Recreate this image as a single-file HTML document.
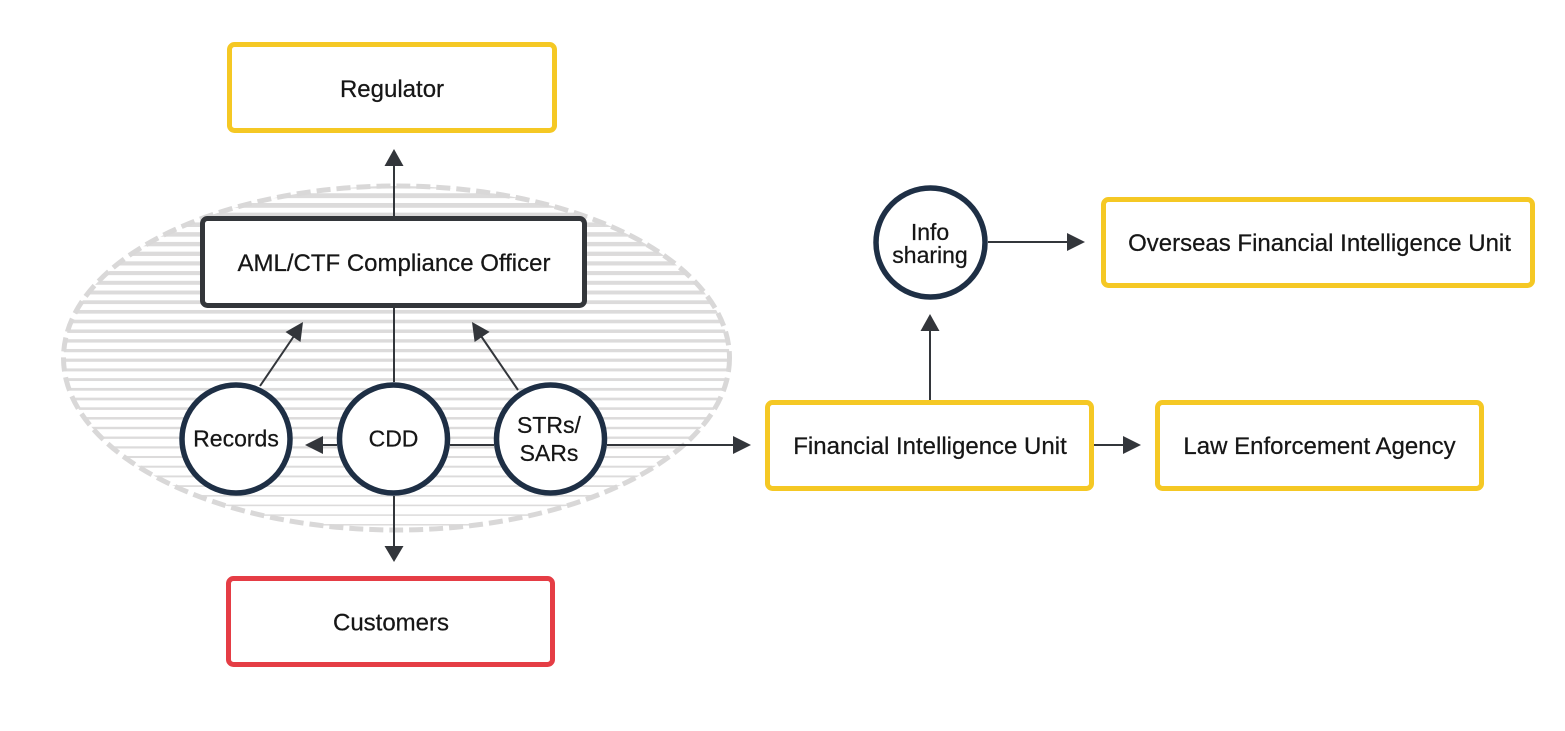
<!DOCTYPE html>
<html>
<head>
<meta charset="utf-8">
<style>
  html, body { margin: 0; padding: 0; background: #ffffff; }
  body { width: 1565px; height: 731px; overflow: hidden; }
  svg { display: block; }
  text { font-family: "Liberation Sans", Arial, sans-serif; font-size: 23px; fill: #161616; stroke: #161616; stroke-width: 0.25px; }
  text.b { font-size: 24px; }
</style>
</head>
<body>
<svg width="1565" height="731" viewBox="0 0 1565 731" xmlns="http://www.w3.org/2000/svg">
  <defs>
    <clipPath id="ell">
      <ellipse cx="396.5" cy="358" rx="333" ry="172"/>
    </clipPath>
  </defs>

  <!-- striped ellipse -->
  <g clip-path="url(#ell)" fill="#dcdbdb">
    <rect x="55" y="183.5" width="680" height="5.0"/>
    <rect x="55" y="193.25" width="680" height="4.9"/>
    <rect x="55" y="203.0" width="680" height="4.8"/>
    <rect x="55" y="212.65" width="680" height="4.7"/>
    <rect x="55" y="222.4" width="680" height="4.6"/>
    <rect x="55" y="232.15" width="680" height="4.5"/>
    <rect x="55" y="241.9" width="680" height="4.4"/>
    <rect x="55" y="251.65" width="680" height="4.3"/>
    <rect x="55" y="261.3" width="680" height="4.2"/>
    <rect x="55" y="271.05" width="680" height="4.1"/>
    <rect x="55" y="280.8" width="680" height="4.0"/>
    <rect x="55" y="290.55" width="680" height="3.9"/>
    <rect x="55" y="300.3" width="680" height="3.8"/>
    <rect x="55" y="309.95" width="680" height="3.7"/>
    <rect x="55" y="319.7" width="680" height="3.6"/>
    <rect x="55" y="329.45" width="680" height="3.5"/>
    <rect x="55" y="339.2" width="680" height="3.4"/>
    <rect x="55" y="348.95" width="680" height="3.3"/>
    <rect x="55" y="358.6" width="680" height="3.2"/>
    <rect x="55" y="368.4" width="680" height="3.0"/>
    <rect x="55" y="378.15" width="680" height="2.9"/>
    <rect x="55" y="387.9" width="680" height="2.8"/>
    <rect x="55" y="397.65" width="680" height="2.7"/>
    <rect x="55" y="407.3" width="680" height="2.6"/>
    <rect x="55" y="417.05" width="680" height="2.5"/>
    <rect x="55" y="426.8" width="680" height="2.4"/>
    <rect x="55" y="436.55" width="680" height="2.3"/>
    <rect x="55" y="446.3" width="680" height="2.2"/>
    <rect x="55" y="455.95" width="680" height="2.1"/>
    <rect x="55" y="465.7" width="680" height="2.0"/>
    <rect x="55" y="475.45" width="680" height="1.9"/>
    <rect x="55" y="485.2" width="680" height="1.8"/>
    <rect x="55" y="494.95" width="680" height="1.7"/>
    <rect x="55" y="504.6" width="680" height="1.6"/>
    <rect x="55" y="514.35" width="680" height="1.5"/>
    <rect x="55" y="524.05" width="680" height="1.5"/>
  </g>
  <ellipse cx="396.5" cy="358" rx="333" ry="172" fill="none" stroke="#d9d8d8" stroke-width="5" stroke-dasharray="14 6"/>

  <!-- connectors -->
  <g stroke="#33363b" stroke-width="2" fill="none">
    <line x1="394" y1="216" x2="394" y2="164"/>
    <line x1="394" y1="308" x2="394" y2="382"/>
    <line x1="394" y1="496" x2="394" y2="548"/>
    <line x1="337" y1="445" x2="321" y2="445"/>
    <line x1="450" y1="445" x2="494" y2="445"/>
    <line x1="607" y1="445" x2="735" y2="445"/>
    <line x1="260" y1="386" x2="294" y2="336"/>
    <line x1="518" y1="390" x2="481" y2="336"/>
    <line x1="930" y1="400" x2="930" y2="329"/>
    <line x1="988" y1="242" x2="1069" y2="242"/>
    <line x1="1094" y1="445" x2="1125" y2="445"/>
  </g>
  <g fill="#33363b">
    <polygon points="394,149 384.5,166 403.5,166"/>
    <polygon points="394,562 384.5,546 403.5,546"/>
    <polygon points="305,445 323,436 323,454"/>
    <polygon points="751,445 733,436 733,454"/>
    <polygon points="303,322 300.5,342 285.5,332"/>
    <polygon points="472,322 489.6,331.9 474.6,342"/>
    <polygon points="930,314 920.5,331 939.5,331"/>
    <polygon points="1085,242 1067,233 1067,251"/>
    <polygon points="1141,445 1123,436 1123,454"/>
  </g>

  <!-- boxes -->
  <rect x="229.5" y="44.5" width="325" height="86" rx="5" fill="#fff" stroke="#f5c824" stroke-width="5"/>
  <text class="b" x="392" y="97" text-anchor="middle">Regulator</text>

  <rect x="202.5" y="218.5" width="382" height="87" rx="5" fill="#fff" stroke="#33363a" stroke-width="5"/>
  <text class="b" x="394" y="271" text-anchor="middle">AML/CTF Compliance Officer</text>

  <rect x="228.5" y="578.5" width="324" height="86" rx="5" fill="#fff" stroke="#e53d45" stroke-width="5"/>
  <text class="b" x="391" y="630.5" text-anchor="middle">Customers</text>

  <rect x="767.5" y="402.5" width="324" height="86" rx="5" fill="#fff" stroke="#f5c824" stroke-width="5"/>
  <text class="b" x="930" y="454" text-anchor="middle">Financial Intelligence Unit</text>

  <rect x="1157.5" y="402.5" width="324" height="86" rx="5" fill="#fff" stroke="#f5c824" stroke-width="5"/>
  <text class="b" x="1319.5" y="454" text-anchor="middle">Law Enforcement Agency</text>

  <rect x="1103.5" y="199.5" width="429" height="86" rx="5" fill="#fff" stroke="#f5c824" stroke-width="5"/>
  <text class="b" x="1319.5" y="251" text-anchor="middle">Overseas Financial Intelligence Unit</text>

  <!-- circles -->
  <g fill="#fff" stroke="#1e2f45" stroke-width="5.5">
    <circle cx="236" cy="439" r="54"/>
    <circle cx="393.5" cy="439" r="54"/>
    <circle cx="550.5" cy="439" r="54"/>
    <circle cx="930.5" cy="242.5" r="54.5"/>
  </g>
  <text x="236" y="446.5" text-anchor="middle">Records</text>
  <text x="393.5" y="446.5" text-anchor="middle">CDD</text>
  <text x="549" y="433" text-anchor="middle">STRs/</text>
  <text x="549" y="461" text-anchor="middle">SARs</text>
  <text x="930" y="240" text-anchor="middle">Info</text>
  <text x="930" y="263" text-anchor="middle">sharing</text>
</svg>
</body>
</html>
